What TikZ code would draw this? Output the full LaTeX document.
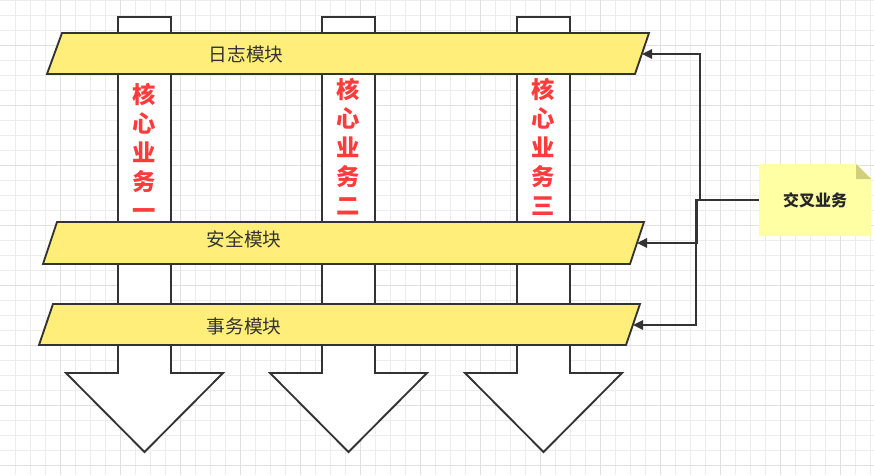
\documentclass[tikz,border=0pt]{standalone}
\usepackage{fontspec}
\usetikzlibrary{arrows.meta}
\newfontfamily\cjk{Noto Sans CJK SC}
\definecolor{bandyellow}{HTML}{FFEF7A}
\definecolor{noteyellow}{HTML}{FFFFA3}
\definecolor{notefold}{HTML}{CFCF7C}
\definecolor{corered}{HTML}{FF3B3B}
\definecolor{inkgray}{HTML}{333333}
\tikzset{
        grid_minor/.style={draw=black!7, line width=0.6pt},
        grid_major/.style={draw=black!12, line width=0.6pt},
        col_shape/.style={draw=inkgray, fill=white, line width=1.4pt, line join=miter},
        band/.style={draw=inkgray, fill=bandyellow, line width=1.4pt, line join=miter},
        band_text/.style={font=\cjk\fontsize{14}{16}\selectfont, text=inkgray},
        core_text/.style={font=\cjk\bfseries\fontsize{17.5}{21.75}\selectfont, text=corered, align=center, inner sep=0pt},
        note_text/.style={font=\cjk\bfseries\fontsize{12}{14}\selectfont, text=black!85,
                          minimum width=84pt, minimum height=54pt, inner sep=0pt},
        link/.style={draw=inkgray, line width=1.2pt, -{Triangle[length=7.5pt,width=7pt]}}
    }

\begin{document}
\begin{tikzpicture}[x=0.75pt, y=-0.75pt]
    \useasboundingbox (0,0) rectangle (874,475);
    \fill[white] (0,0) rectangle (874,475);
    % background grid
    \foreach \gx in {15,30,...,870} {\draw[grid_minor] (\gx,0) -- (\gx,475);}
    \foreach \gy in {0,15,...,470} {\draw[grid_minor] (0,\gy) -- (874,\gy);}
    \foreach \gx in {60,120,...,840} {\draw[grid_major] (\gx,0) -- (\gx,475);}
    \foreach \gy in {45,105,...,465} {\draw[grid_major] (0,\gy) -- (874,\gy);}
    % three business columns ending in arrow heads
    \foreach \cx in {144.5,348.5,543.5} {
        \draw[col_shape] (\cx-26.5,17) -- (\cx+26.5,17) -- (\cx+26.5,373) -- (\cx+78.5,373)
            -- (\cx,452) -- (\cx-78.5,373) -- (\cx-26.5,373) -- cycle;
    }
    % module bands
    \draw[band] (62,33) -- (649,33) -- (635,74) -- (47,74) -- cycle;
    \draw[band] (57,222) -- (644,222) -- (630,264) -- (43,264) -- cycle;
    \draw[band] (53,304) -- (640,304) -- (626,345) -- (39,345) -- cycle;
    \node[band_text] (log) at (246,54.5) {日志模块};
    \node[band_text] (safe) at (244,239.5) {安全模块};
    \node[band_text] (trans) at (244,326) {事务模块};
    \coordinate (log_in) at (642,54);
    \coordinate (safe_in) at (637,243);
    \coordinate (trans_in) at (633,325);
    % core labels
    \node[core_text] (core_a) at (144.5,151) {核\\心\\业\\务\\一};
    \node[core_text] (core_b) at (348.5,147) {核\\心\\业\\务\\二};
    \node[core_text] (core_c) at (543.5,147) {核\\心\\业\\务\\三};
    % note with folded corner
    \fill[noteyellow] (759,164) -- (856,164) -- (871,179) -- (871,236) -- (759,236) -- cycle;
    \fill[notefold] (856,164) -- (871,179) -- (856,179) -- cycle;
    \node[note_text] (cross) at (815,200) {交叉业务};
    % links
    \draw[link] (cross.west) -- ++(-59,0) |- (log_in);
    \draw[link] (cross.west) -- ++(-62,0) |- (safe_in);
    \draw[link] (cross.west) -- ++(-63,0) |- (trans_in);
\end{tikzpicture}
\end{document}
